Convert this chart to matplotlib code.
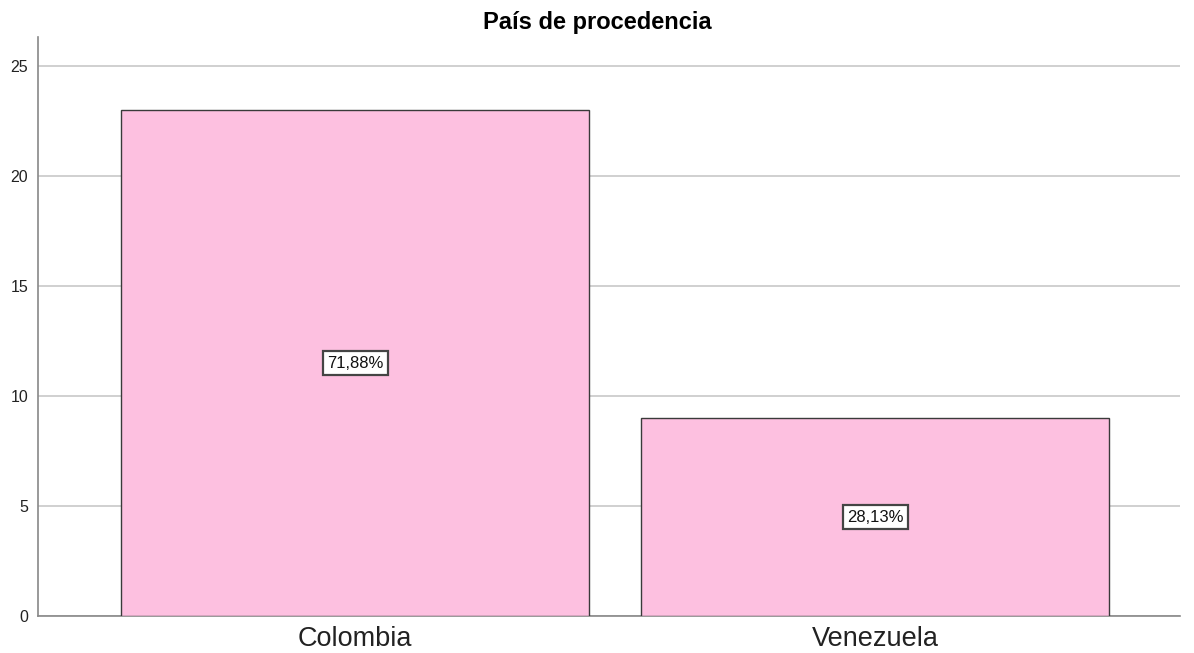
import matplotlib
matplotlib.use("Agg")
import matplotlib.pyplot as plt

categories = ["Colombia", "Venezuela"]
counts = [23, 9]
percent_labels = ["71,88%", "28,13%"]
yticks = [0, 5, 10, 15, 20, 25]

plt.rcParams['font.family'] = ['Liberation Sans', 'DejaVu Sans']

fig = plt.figure(figsize=(11.94, 6.53), dpi=100)
ax = fig.add_axes([38/1194, (653-616)/653, (1180-38)/1194, (616-37)/653])

x = list(range(len(categories)))
ax.bar(x, counts, width=0.9, color='#fdc0e0', edgecolor='#3a3a3a', linewidth=1.0, zorder=3)

for xi, c, lab in zip(x, counts, percent_labels):
    ax.text(xi, c / 2, lab, ha='center', va='center', fontsize=12, color='#111111', zorder=4,
            bbox=dict(boxstyle='square,pad=0.25', facecolor='white', edgecolor='#444444', linewidth=1.6))

ax.set_xlim(-0.61, 1.586)
ax.set_ylim(0, 26.32)
ax.set_yticks(yticks)
ax.set_yticklabels([str(t) for t in yticks], fontsize=11.5, color='#222222')
ax.set_xticks(x)
ax.set_xticklabels(categories, fontsize=19.5, color='#222222')
ax.tick_params(axis='y', length=0, pad=7)
ax.tick_params(axis='x', length=0, pad=7)
ax.yaxis.grid(True, color='#c8c8c8', linewidth=1.2, zorder=0)
ax.set_axisbelow(True)
for s in ['top', 'right']:
    ax.spines[s].set_visible(False)
for s in ['left', 'bottom']:
    ax.spines[s].set_color('#888888')
    ax.spines[s].set_linewidth(1.2)

fig.text(0.5, 1 - 22/653, "País de procedencia", ha='center', va='center', fontsize=17, fontweight='bold')

fig.savefig("out.png", dpi=100)
